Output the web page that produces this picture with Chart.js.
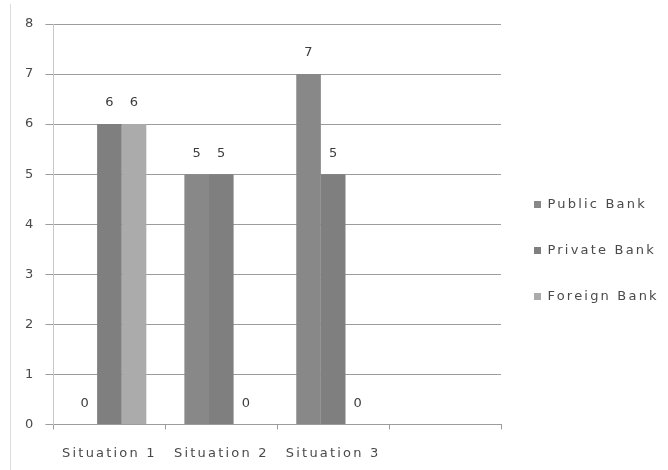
<!DOCTYPE html>
<html>
<head>
<meta charset="utf-8">
<script src="https://cdn.jsdelivr.net/npm/chart.js@4/dist/chart.umd.min.js"></script>
<style>
  body { margin: 0; background: #fff; }
  #wrap { position: relative; width: 668px; height: 470px; }
  #wrap::before {
    content: ''; position: absolute; left: 10px; top: 4px; bottom: 0;
    border-left: 1px solid #dcdcdc;
  }
  canvas { display: block; }
</style>
</head>
<body>
<div id="wrap"><canvas id="chart" width="668" height="470"></canvas></div>
<script>
const categories = ['Situation 1', 'Situation 2', 'Situation 3', ''];
const publicBank = [0, 5, 7, null];
const privateBank = [6, 5, 5, null];
const foreignBank = [6, 0, 0, null];
const yMin = 0;
const yMax = 8;
const yStep = 1;

const textColor = '#4a4a4a';
const gridColor = '#9c9c9c';
const baseFont = { family: 'DejaVu Sans', size: 13 };

// wide, spaced-out lettering for every text on the canvas
const spacing = {
  id: 'spacing',
  beforeUpdate(chart) { chart.ctx.letterSpacing = '2.2px'; },
  beforeDraw(chart) { chart.ctx.letterSpacing = '2.2px'; }
};

// value printed above each bar
const valueLabels = {
  id: 'valueLabels',
  afterDatasetsDraw(chart) {
    const ctx = chart.ctx;
    ctx.save();
    ctx.font = '13px "DejaVu Sans"';
    ctx.fillStyle = '#3c3c3c';
    ctx.textAlign = 'center';
    ctx.textBaseline = 'middle';
    chart.data.datasets.forEach((ds, i) => {
      chart.getDatasetMeta(i).data.forEach((bar, j) => {
        const v = ds.data[j];
        if (v === null || v === undefined) return;
        ctx.fillText(String(v), bar.x + 1, bar.y - 21);
      });
    });
    ctx.restore();
  }
};

new Chart(document.getElementById('chart'), {
  type: 'bar',
  data: {
    labels: categories,
    datasets: [
      { label: 'Public Bank', data: publicBank, backgroundColor: '#888888' },
      { label: 'Private Bank', data: privateBank, backgroundColor: '#7f7f7f' },
      { label: 'Foreign Bank', data: foreignBank, backgroundColor: '#ababab' }
    ]
  },
  options: {
    responsive: false,
    animation: false,
    devicePixelRatio: 1,
    categoryPercentage: 0.66,
    barPercentage: 1.0,
    layout: { padding: { top: 24, left: 15, right: 5, bottom: -7 } },
    plugins: {
      tooltip: { enabled: false },
      legend: {
        position: 'right',
        labels: {
          boxWidth: 7,
          boxHeight: 7,
          padding: 33,
          color: textColor,
          font: baseFont
        }
      }
    },
    scales: {
      x: {
        offset: true,
        grid: {
          offset: true,
          drawOnChartArea: false,
          tickLength: 5,
          color: gridColor
        },
        border: { color: gridColor },
        ticks: { color: textColor, font: baseFont, padding: 16, maxRotation: 0 }
      },
      y: {
        min: yMin,
        max: yMax,
        grid: { color: gridColor, tickLength: 8 },
        border: { color: '#c8c8c8' },
        ticks: { stepSize: yStep, color: textColor, font: baseFont, padding: 10 }
      }
    }
  },
  plugins: [spacing, valueLabels]
});
</script>
</body>
</html>
